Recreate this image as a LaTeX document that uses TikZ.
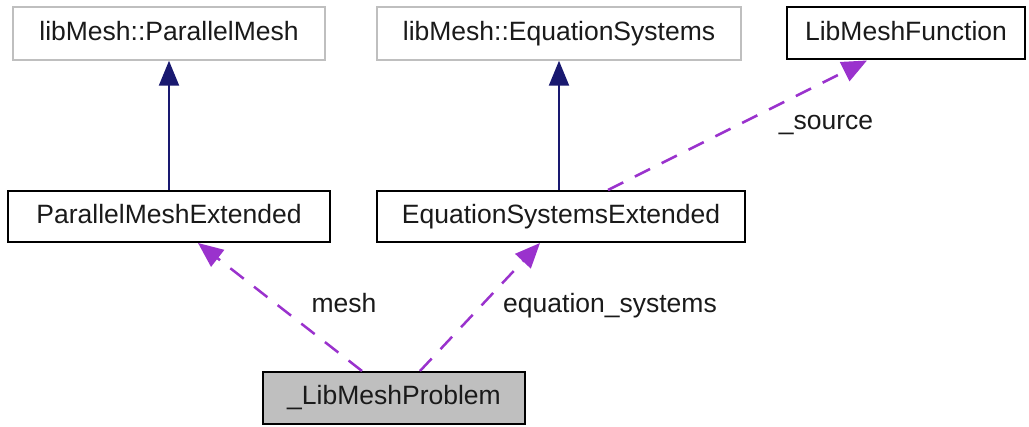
\documentclass[tikz,border=0pt]{standalone}
\usepackage{fontspec}
\setmainfont{Liberation Sans}
\usetikzlibrary{arrows.meta}
\definecolor{inheritblue}{HTML}{191970}
\definecolor{usepurple}{HTML}{9A32CD}
\definecolor{extgray}{HTML}{BFBFBF}
\definecolor{textgray}{HTML}{1A1A1A}
\tikzset{
  classbox/.style={draw=black, line width=2pt, fill=white, rectangle,
    inner sep=0pt, text=textgray, text height=19pt, text depth=5.5pt,
    font=\fontsize{26.5}{30}\selectfont},
  extbox/.style={classbox, draw=extgray, line width=1.5pt},
  focusbox/.style={classbox, fill=extgray},
  inherits/.style={draw=inheritblue, line width=2.2pt,
    -{Triangle[length=25pt,width=20pt]}},
  uses/.style={draw=usepurple, line width=2.5pt, dash pattern=on 17pt off 13pt,
    -{Triangle[length=25pt,width=21pt]}},
  edgelabel/.style={inner sep=0pt, anchor=base, text=textgray,
    font=\fontsize{26.5}{30}\selectfont}
}
\begin{document}
\begin{tikzpicture}[x=1pt,y=-1pt]
  \useasboundingbox (0,0) rectangle (1029,427);

  % class boxes
  \node[extbox, minimum width=312pt, minimum height=53pt] (pm) at (169,33.5) {libMesh::ParallelMesh};
  \node[extbox, minimum width=364pt, minimum height=53pt] (es) at (559,33.5) {libMesh::EquationSystems};
  \node[classbox, minimum width=238pt, minimum height=52pt] (lmf) at (906,33.5) {LibMeshFunction};
  \node[classbox, minimum width=322pt, minimum height=51pt] (pme) at (169,216.5) {ParallelMeshExtended};
  \node[classbox, minimum width=368pt, minimum height=51pt] (ese) at (561,216.5) {EquationSystemsExtended};
  \node[focusbox, minimum width=262pt, minimum height=52pt] (lmp) at (394,398) {\_LibMeshProblem};

  % inheritance
  \draw[inherits] (pme.north) -- (pm.south);
  \draw[inherits] ([xshift=-2pt]ese.north) -- (es.south);

  % usage relations
  \draw[uses] ([xshift=47pt]ese.north) -- ([xshift=-39pt]lmf.south);
  \draw[uses] ([xshift=-32pt]lmp.north) -- ([xshift=29pt]pme.south);
  \draw[uses] ([xshift=26pt]lmp.north) -- ([xshift=-21pt]ese.south);

  % relation labels
  \node[edgelabel] (lsource) at (826,130) {\_source};
  \node[edgelabel] (lmesh) at (344,313) {mesh};
  \node[edgelabel] (leqs) at (610,313) {equation\_systems};
\end{tikzpicture}
\end{document}
